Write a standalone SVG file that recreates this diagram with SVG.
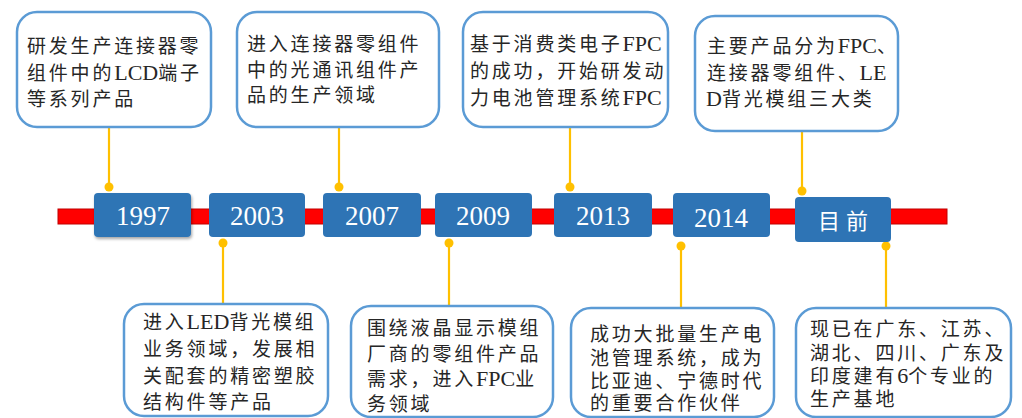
<svg xmlns="http://www.w3.org/2000/svg" width="1022" height="418" viewBox="0 0 1022 418">
<defs>
<style>
.card{fill:#fff;stroke:#5B9BD5;stroke-width:2.5}
.yr{fill:#2E74B5}
.yt{font-family:"Liberation Serif","Noto Sans CJK SC",serif;font-size:27px;fill:#fff;text-anchor:middle}
.t{font-family:"Liberation Serif","Noto Sans CJK SC",serif;font-size:19px;fill:#262626;letter-spacing:2.8px}
.l{font-size:22px;letter-spacing:0}
.ln{stroke:#FFC000;stroke-width:2.2;fill:none}
.dot{fill:#FFC000}
</style>
<filter id="sh" x="-10%" y="-10%" width="125%" height="135%">
<feDropShadow dx="1" dy="2" stdDeviation="1.5" flood-color="#000" flood-opacity="0.35"/>
</filter>
</defs>
<rect width="1022" height="418" fill="#fff"/>
<rect id="timeline" x="58" y="209" width="889" height="15" fill="#FF0000" stroke="#C00000" stroke-width="1"/>
<g id="connectors">
<line class="ln" x1="109" y1="127" x2="109" y2="187"/><circle class="dot" cx="109" cy="187" r="4.5"/>
<line class="ln" x1="339" y1="127" x2="339" y2="187"/><circle class="dot" cx="339" cy="187" r="4.5"/>
<line class="ln" x1="570" y1="127" x2="570" y2="187"/><circle class="dot" cx="570" cy="187" r="4.5"/>
<line class="ln" x1="802" y1="131" x2="802" y2="191"/><circle class="dot" cx="802" cy="191" r="4.5"/>
<line class="ln" x1="223" y1="243" x2="223" y2="304"/><circle class="dot" cx="223" cy="243" r="4.5"/>
<line class="ln" x1="449" y1="243" x2="449" y2="306"/><circle class="dot" cx="449" cy="243" r="4.5"/>
<line class="ln" x1="681" y1="246" x2="681" y2="308"/><circle class="dot" cx="681" cy="246" r="4.5"/>
<line class="ln" x1="886" y1="246" x2="886" y2="308"/><circle class="dot" cx="886" cy="246" r="4.5"/>
</g>
<g id="y1997"><rect class="yr" x="94" y="193" width="97" height="44" rx="4" filter="url(#sh)"/><text class="yt" x="143" y="225">1997</text></g>
<g id="y2003"><rect class="yr" x="209" y="193" width="96" height="44" rx="4"/><text class="yt" x="257" y="225">2003</text></g>
<g id="y2007"><rect class="yr" x="323" y="193" width="98" height="44" rx="4"/><text class="yt" x="372" y="225">2007</text></g>
<g id="y2009"><rect class="yr" x="435" y="193" width="97" height="44" rx="4"/><text class="yt" x="483" y="225">2009</text></g>
<g id="y2013"><rect class="yr" x="554" y="193" width="98" height="44" rx="4"/><text class="yt" x="603" y="225">2013</text></g>
<g id="y2014"><rect class="yr" x="673" y="193" width="97" height="44" rx="4"/><text class="yt" x="721" y="227">2014</text></g>
<g id="ynow"><rect class="yr" x="795" y="197" width="96" height="45" rx="4"/><text class="yt" x="846" y="229" style="font-size:22px;letter-spacing:6px">目前</text></g>
<g id="c1997"><rect class="card" x="17" y="12" width="194" height="115" rx="20"/>
<text class="t" x="27" y="53">研发生产连接器零</text><text class="t" x="27" y="80">组件中的<tspan class="l">LCD</tspan>端子</text><text class="t" x="27" y="106">等系列产品</text></g>
<g id="c2007"><rect class="card" x="237" y="12" width="202" height="115" rx="20"/>
<text class="t" x="247" y="51">进入连接器零组件</text><text class="t" x="247" y="77">中的光通讯组件产</text><text class="t" x="247" y="102">品的生产领域</text></g>
<g id="c2013"><rect class="card" x="463" y="12" width="205" height="115" rx="20"/>
<text class="t" x="470" y="51">基于消费类电子<tspan class="l">FPC</tspan></text><text class="t" x="470" y="78">的成功，开始研发动</text><text class="t" x="470" y="105">力电池管理系统<tspan class="l">FPC</tspan></text></g>
<g id="cnow1"><rect class="card" x="695" y="16" width="203" height="115" rx="20"/>
<text class="t" x="707" y="53">主要产品分为<tspan class="l">FPC</tspan>、</text><text class="t" x="707" y="80">连接器零组件、<tspan class="l">LE</tspan></text><text class="t" x="706" y="106"><tspan class="l">D</tspan>背光模组三大类</text></g>
<g id="c2003"><rect class="card" x="124" y="304" width="204" height="112" rx="20"/>
<text class="t" x="143" y="329">进入<tspan class="l">LED</tspan>背光模组</text><text class="t" x="143" y="356">业务领域，发展相</text><text class="t" x="143" y="383">关配套的精密塑胶</text><text class="t" x="143" y="409">结构件等产品</text></g>
<g id="c2009"><rect class="card" x="351" y="306" width="202" height="111" rx="20"/>
<text class="t" x="367" y="335">围绕液晶显示模组</text><text class="t" x="367" y="361">厂商的零组件产品</text><text class="t" x="367" y="386">需求，进入<tspan class="l">FPC</tspan>业</text><text class="t" x="367" y="411">务领域</text></g>
<g id="c2014"><rect class="card" x="571" y="308" width="203" height="109" rx="20"/>
<text class="t" x="590" y="341">成功大批量生产电</text><text class="t" x="590" y="365">池管理系统，成为</text><text class="t" x="590" y="388">比亚迪、宁德时代</text><text class="t" x="590" y="410">的重要合作伙伴</text></g>
<g id="cnow2"><rect class="card" x="796" y="308" width="215" height="109" rx="20"/>
<text class="t" x="810" y="336">现已在广东、江苏、</text><text class="t" x="810" y="360">湖北、四川、广东及</text><text class="t" x="810" y="383">印度建有<tspan class="l">6</tspan>个专业的</text><text class="t" x="810" y="406">生产基地</text></g>
</svg>
